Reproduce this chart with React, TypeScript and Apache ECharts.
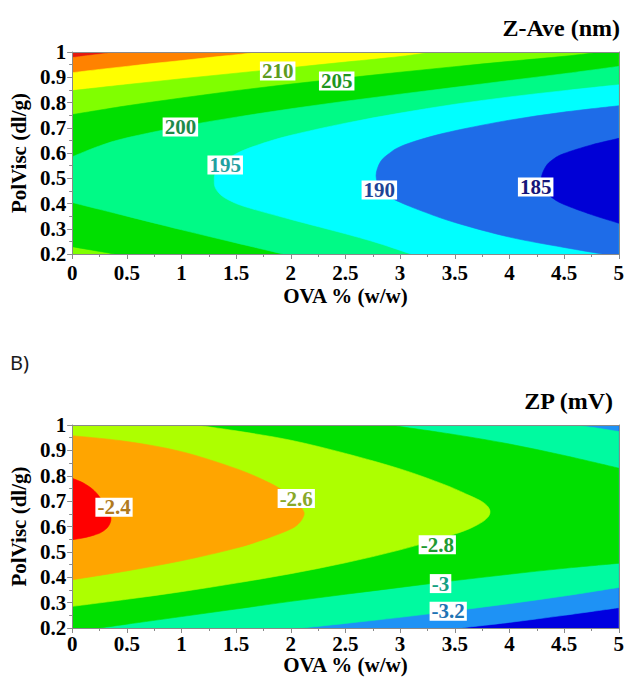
import React, { useEffect, useRef } from "react";
import * as echarts from "echarts";

// ---------- Z-Ave (nm) contour lines, points as [OVA %, PolVisc] ----------
const ZAVE_C220 = [[0, 0.978], [0.15, 0.986], [0.3, 0.994], [0.42, 1.0]];
const ZAVE_C215 = [[0, 0.918], [0.25, 0.931], [0.5, 0.943], [0.75, 0.955], [1.0, 0.966], [1.25, 0.978], [1.5, 0.989], [1.72, 1.0]];
const ZAVE_C210 = [[0, 0.847], [0.5, 0.871], [1, 0.894], [1.5, 0.916], [2, 0.938], [2.5, 0.96], [3, 0.982], [3.3, 1.0]];
const ZAVE_C205U = [[0, 0.752], [0.5, 0.787], [1, 0.818], [1.5, 0.847], [2, 0.873], [2.5, 0.897], [3, 0.92], [3.5, 0.942], [4, 0.963], [4.5, 0.983], [4.85, 1.0]];
const ZAVE_C205L = [[0.39, 0.2], [0.2, 0.214], [0, 0.229]];
const ZAVE_C200U = [[0, 0.585], [0.25, 0.628], [0.5, 0.66], [1, 0.705], [1.5, 0.742], [2, 0.775], [2.5, 0.805], [3, 0.833], [3.5, 0.86], [4, 0.887], [4.5, 0.914], [5, 0.943]];
const ZAVE_C200L = [[1.93, 0.2], [1.5, 0.244], [1, 0.296], [0.5, 0.35], [0.25, 0.377], [0, 0.404]];
const ZAVE_C195 = [[5, 0.87], [4.5, 0.847], [4, 0.822], [3.5, 0.793], [3, 0.758], [2.5, 0.718], [2, 0.67], [1.7, 0.632], [1.5, 0.597], [1.38, 0.56], [1.31, 0.52], [1.3, 0.49], [1.31, 0.462], [1.36, 0.434], [1.45, 0.41], [1.6, 0.385], [2, 0.337], [2.5, 0.28], [2.8, 0.243], [3.1, 0.2]];
const ZAVE_C190 = [[5, 0.787], [4.5, 0.762], [4, 0.73], [3.5, 0.688], [3.2, 0.655], [3, 0.625], [2.9, 0.598], [2.82, 0.565], [2.78, 0.51], [2.82, 0.458], [2.9, 0.428], [3, 0.405], [3.2, 0.37], [3.5, 0.325], [4, 0.267], [4.5, 0.226], [4.85, 0.2]];
const ZAVE_C185 = [[5, 0.658], [4.75, 0.632], [4.5, 0.598], [4.4, 0.575], [4.33, 0.545], [4.29, 0.495], [4.33, 0.448], [4.4, 0.42], [4.5, 0.396], [4.75, 0.356], [5, 0.322]];
const ZAVE_LABEL_POS = [[1.88, 0.925], [2.42, 0.885], [0.99, 0.703], [1.4, 0.552], [2.81, 0.453], [4.24, 0.465]];
const ZAVE_LABEL_TEXT = ["210", "205", "200", "195", "190", "185"];

// ---------- ZP (mV) contour lines ----------
const ZP_C24 = [[0, 0.79], [0.1, 0.772], [0.2, 0.742], [0.27, 0.705], [0.32, 0.67], [0.355, 0.632], [0.33, 0.6], [0.27, 0.578], [0.2, 0.566], [0.1, 0.555], [0, 0.548]];
const ZP_C26 = [[0, 0.958], [0.5, 0.935], [1, 0.895], [1.5, 0.828], [1.8, 0.773], [1.95, 0.735], [2.05, 0.7], [2.11, 0.665], [2.12, 0.645], [2.08, 0.615], [2, 0.59], [1.8, 0.556], [1.5, 0.515], [1, 0.465], [0.5, 0.425], [0, 0.39]];
const ZP_C28 = [[1.12, 1.0], [1.5, 0.977], [2, 0.94], [2.5, 0.888], [3, 0.827], [3.4, 0.766], [3.62, 0.725], [3.76, 0.695], [3.82, 0.665], [3.8, 0.635], [3.7, 0.605], [3.5, 0.57], [3, 0.508], [2.5, 0.457], [2, 0.414], [1.5, 0.377], [1, 0.343], [0.5, 0.313], [0, 0.285]];
const ZP_C30U = [[2.9, 1.0], [3.5, 0.962], [4, 0.925], [4.5, 0.88], [5, 0.83]];
const ZP_C30L = [[0.25, 0.2], [0.5, 0.215], [1, 0.245], [1.5, 0.275], [2, 0.305], [2.5, 0.333], [3, 0.36], [3.5, 0.387], [4, 0.412], [4.5, 0.435], [5, 0.455]];
const ZP_C32U = [[4.6, 1.0], [4.8, 0.988], [5, 0.974]];
const ZP_C32L = [[2.1, 0.2], [2.5, 0.218], [3, 0.242], [3.5, 0.268], [4, 0.296], [4.5, 0.326], [5, 0.36]];
const ZP_C34 = [[3.55, 0.2], [4, 0.222], [4.5, 0.25], [5, 0.28]];
const ZP_LABEL_POS = [[0.383, 0.676], [2.05, 0.71], [3.34, 0.528], [3.37, 0.375], [3.44, 0.266]];
const ZP_LABEL_TEXT = ["-2.4", "-2.6", "-2.8", "-3", "-3.2"];

// ---------- styles ----------
const ZAVE_COLORS = ["#E41A0E", "#FF8200", "#FFFF00", "#80FF00", "#00DF00", "#00FA86", "#00FFFF", "#1E6CE8", "#0000D6"];
const ZAVE_LABEL_COLORS = ["#5E9B1E", "#1E961E", "#1E8A4A", "#1FA0A0", "#1E4496", "#16167A"];
const ZP_COLORS = ["#0000E0", "#1E92F5", "#00FAA0", "#00E000", "#ADFF00", "#FFA500", "#FF0000"];
const ZP_LABEL_COLORS = ["#B07A1E", "#88A828", "#1E9A32", "#14A082", "#1E74B4"];

type Part = { pts: number[][]; smooth: boolean };
const E = (pts: number[][]): Part => ({ pts, smooth: false });
const C = (pts: number[][]): Part => ({ pts, smooth: true });
const rev = (a: number[][]) => a.slice().reverse();
const RECT = [[0, 0.2], [0, 1], [5, 1], [5, 0.2]];

// painted in order: each region = {z < level} (Z-Ave) / {z > level} (ZP)
const ZAVE_REGIONS: Part[][] = [
  [E(RECT)],
  [E([[0, 0.2]]), C(ZAVE_C220), E([[5, 1], [5, 0.2]])],
  [E([[0, 0.2]]), C(ZAVE_C215), E([[5, 1], [5, 0.2]])],
  [E([[0, 0.2]]), C(ZAVE_C210), E([[5, 1], [5, 0.2]])],
  [C(ZAVE_C205U), E([[5, 1], [5, 0.2]]), C(ZAVE_C205L)],
  [C(ZAVE_C200U), E([[5, 0.2]]), C(ZAVE_C200L)],
  [C(ZAVE_C195), E([[5, 0.2]])],
  [C(ZAVE_C190), E([[5, 0.2]])],
  [C(ZAVE_C185)],
];
const ZP_REGIONS: Part[][] = [
  [E(RECT)],
  [E([[0, 0.2]]), C(ZP_C34), E([[5, 1], [0, 1]])],
  [E([[0, 0.2]]), C(ZP_C32L), C(rev(ZP_C32U)), E([[0, 1]])],
  [E([[0, 0.2]]), C(ZP_C30L), C(rev(ZP_C30U)), E([[0, 1]])],
  [C(ZP_C28), E([[0, 1]])],
  [C(ZP_C26)],
  [C(ZP_C24)],
];

const SERIF = "Liberation Serif";
const AX = "#8a8a8a";

function buildPath(parts: Part[], api: any): string {
  let d = "";
  let started = false;
  const f = (n: number) => n.toFixed(2);
  for (const part of parts) {
    const px = part.pts.map((p) => api.coord(p));
    if (!part.smooth) {
      for (const q of px) {
        d += (started ? "L" : "M") + f(q[0]) + "," + f(q[1]);
        started = true;
      }
    } else {
      d += (started ? "L" : "M") + f(px[0][0]) + "," + f(px[0][1]);
      started = true;
      for (let i = 0; i < px.length - 1; i++) {
        const p0 = px[i - 1] || px[i];
        const p1 = px[i];
        const p2 = px[i + 1];
        const p3 = px[i + 2] || px[i + 1];
        const c1x = p1[0] + (p2[0] - p0[0]) / 6;
        const c1y = p1[1] + (p2[1] - p0[1]) / 6;
        const c2x = p2[0] - (p3[0] - p1[0]) / 6;
        const c2y = p2[1] - (p3[1] - p1[1]) / 6;
        d += "C" + f(c1x) + "," + f(c1y) + " " + f(c2x) + "," + f(c2y) + " " + f(p2[0]) + "," + f(p2[1]);
      }
    }
  }
  return d + "Z";
}

function regionSeries(gridIdx: number, regions: Part[][], colors: string[]) {
  return {
    type: "custom",
    xAxisIndex: gridIdx * 2,
    yAxisIndex: gridIdx * 2,
    clip: true,
    silent: true,
    z: 2,
    data: regions.map((_, i) => [0, 0.2, i]),
    renderItem: (params: any, api: any) => {
      const i = params.dataIndex;
      return {
        type: "path",
        shape: { pathData: buildPath(regions[i], api) },
        style: { fill: colors[i], stroke: colors[i], lineWidth: 0.6 },
      };
    },
  };
}

function labelSeries(gridIdx: number, pos: number[][], texts: string[], colors: string[]) {
  return {
    type: "custom",
    xAxisIndex: gridIdx * 2,
    yAxisIndex: gridIdx * 2,
    silent: true,
    z: 5,
    data: pos.map((p, i) => [p[0], p[1], i]),
    renderItem: (params: any, api: any) => {
      const i = params.dataIndex;
      const pt = api.coord([pos[i][0], pos[i][1]]);
      return {
        type: "text",
        x: pt[0],
        y: pt[1],
        style: {
          text: texts[i],
          fill: colors[i],
          fontFamily: SERIF,
          fontWeight: "bold",
          fontSize: 21,
          align: "center",
          verticalAlign: "middle",
          lineHeight: 19,
          backgroundColor: "#ffffff",
          padding: [0, 2, 0, 2],
        },
      };
    },
  };
}

function axesFor(gridIdx: number, o: { xMargin: number; xGap: number; yGap: number }) {
  const labelStyle = { color: "#000", fontFamily: SERIF, fontWeight: "bold" as const, fontSize: 21 };
  const nameStyle = { color: "#000", fontFamily: SERIF, fontWeight: "bold" as const, fontSize: 21 };
  const frame = { show: true, onZero: false, lineStyle: { color: AX, width: 1 } };
  const x = [
    {
      gridIndex: gridIdx, type: "value", min: 0, max: 5, interval: 0.5, position: "bottom", z: 10,
      axisLine: frame,
      axisTick: { show: true, length: 5, lineStyle: { color: AX } },
      minorTick: { show: true, splitNumber: 2, length: 3, lineStyle: { color: AX } },
      splitLine: { show: false },
      axisLabel: { ...labelStyle, margin: o.xMargin },
      name: "OVA % (w/w)", nameLocation: "middle", nameGap: o.xGap, nameTextStyle: nameStyle,
    },
    {
      gridIndex: gridIdx, type: "value", min: 0, max: 5, position: "top", z: 10,
      axisLine: frame, axisTick: { show: false }, axisLabel: { show: false }, splitLine: { show: false },
    },
  ];
  const y = [
    {
      gridIndex: gridIdx, type: "value", min: 0.2, max: 1, interval: 0.1, position: "left", z: 10,
      axisLine: frame,
      axisTick: { show: true, length: 5, lineStyle: { color: AX } },
      minorTick: { show: true, splitNumber: 2, length: 3, lineStyle: { color: AX } },
      splitLine: { show: false },
      axisLabel: { ...labelStyle, margin: 6 },
      name: "PolVisc (dl/g)", nameLocation: "middle", nameGap: o.yGap, nameRotate: 90, nameTextStyle: nameStyle,
    },
    {
      gridIndex: gridIdx, type: "value", min: 0.2, max: 1, position: "right", z: 10,
      axisLine: frame, axisTick: { show: false }, axisLabel: { show: false }, splitLine: { show: false },
    },
  ];
  return { x, y };
}

export default function App() {
  const ref = useRef<HTMLDivElement>(null);
  useEffect(() => {
    if (!ref.current) return;
    const chart = echarts.init(ref.current, null, { renderer: "svg" });
    const a0 = axesFor(0, { xMargin: 8, xGap: 31, yGap: 31 });
    const a1 = axesFor(1, { xMargin: 5, xGap: 26, yGap: 30 });
    const titleStyle = { fill: "#000", fontFamily: SERIF, fontWeight: "bold", fontSize: 24, align: "right", verticalAlign: "middle" };
    chart.setOption({
      animation: false,
      backgroundColor: "#ffffff",
      grid: [
        { left: 67, top: 52, width: 556, height: 202, containLabel: false },
        { left: 62, top: 425, width: 559, height: 203, containLabel: false },
      ],
      xAxis: [...a0.x, ...a1.x],
      yAxis: [...a0.y, ...a1.y],
      graphic: [
        { type: "text", x: 620, y: 28, z: 20, style: { ...titleStyle, text: "Z-Ave (nm)" } },
        { type: "text", x: 613, y: 401, z: 20, style: { ...titleStyle, text: "ZP (mV)" } },
        {
          type: "text", x: 10, y: 362, z: 20,
          style: { text: "B)", fill: "#1a1a1a", fontFamily: "Noto Sans", fontSize: 20, align: "left", verticalAlign: "middle" },
        },
      ],
      series: [
        regionSeries(0, ZAVE_REGIONS, ZAVE_COLORS),
        labelSeries(0, ZAVE_LABEL_POS, ZAVE_LABEL_TEXT, ZAVE_LABEL_COLORS),
        regionSeries(1, ZP_REGIONS, ZP_COLORS),
        labelSeries(1, ZP_LABEL_POS, ZP_LABEL_TEXT, ZP_LABEL_COLORS),
      ],
    });
    return () => chart.dispose();
  }, []);
  return (
    <div
      ref={ref}
      style={{ position: "absolute", left: 0, top: 0, width: 627, height: 679, background: "#fff" }}
    />
  );
}
